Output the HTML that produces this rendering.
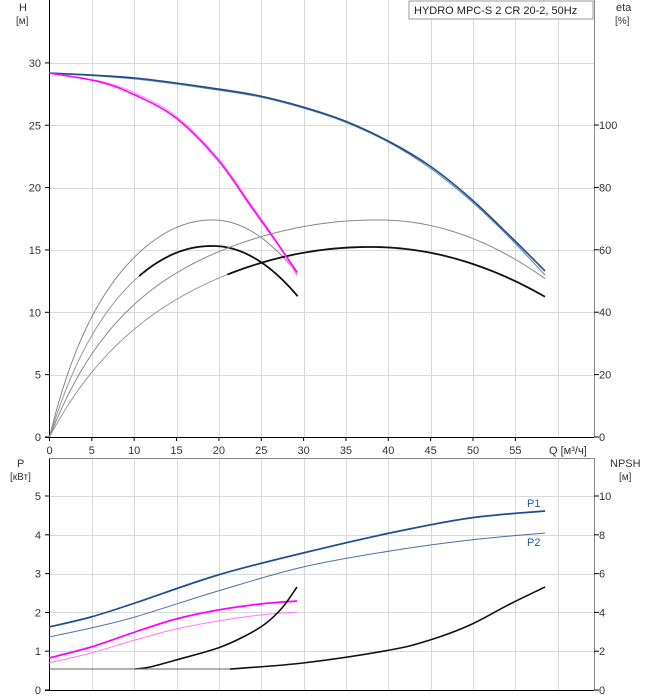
<!DOCTYPE html>
<html><head><meta charset="utf-8"><style>
body{margin:0;background:#fff;}
svg{display:block;font-family:"Liberation Sans",sans-serif;}
</style></head><body>
<svg id="s" width="658" height="700" viewBox="0 0 658 700" xmlns="http://www.w3.org/2000/svg">
<g id="grid" stroke="#d9d9d9" stroke-width="1"></g>
<g id="frame"></g>
<g id="curves" fill="none"></g>
<g id="txt" font-size="11" fill="#333"></g>
<rect x="409" y="1" width="184" height="18" fill="#fff" stroke="#999" stroke-width="1"/>
<text x="414" y="14" font-size="11" fill="#222">HYDRO MPC-S 2 CR 20-2, 50Hz</text>
</svg>
<script>
const NS="http://www.w3.org/2000/svg";
function el(p,t,a,txt){const e=document.createElementNS(NS,t);for(const k in a)e.setAttribute(k,a[k]);if(txt!==undefined)e.textContent=txt;document.getElementById(p).appendChild(e);return e;}
const X0=49.5,SX=8.47,R=594;
const qx=q=>X0+q*SX;
const Htop=437,SH=12.47;const Pb=690,SP=38.8;
for(let q=5;q<=60;q+=5){const x=Math.round(qx(q))+0.5;el('grid','line',{x1:x,y1:0,x2:x,y2:437});el('grid','line',{x1:x,y1:458,x2:x,y2:690});}
for(let h=5;h<=30;h+=5){const y=Math.round(Htop-h*SH)+0.5;el('grid','line',{x1:49,y1:y,x2:R,y2:y});}
for(let p=1;p<=5;p++){const y=Math.round(Pb-p*SP)+0.5;el('grid','line',{x1:49,y1:y,x2:R,y2:y});}
el('frame','line',{x1:49.5,y1:0,x2:49.5,y2:441,stroke:'#000'});
el('frame','line',{x1:45,y1:437.5,x2:R,y2:437.5,stroke:'#000'});
el('frame','line',{x1:R+0.5,y1:0,x2:R+0.5,y2:437,stroke:'#888'});
el('frame','line',{x1:49.5,y1:458,x2:49.5,y2:690,stroke:'#000'});
el('frame','line',{x1:45,y1:690.5,x2:R,y2:690.5,stroke:'#000'});
el('frame','line',{x1:49,y1:458.5,x2:R,y2:458.5,stroke:'#888'});
el('frame','line',{x1:R+0.5,y1:458,x2:R+0.5,y2:690,stroke:'#888'});
for(let q=0;q<=55;q+=5){const x=qx(q);el('frame','line',{x1:x,y1:437,x2:x,y2:441,stroke:'#000'});el('txt','text',{x:x,y:454,'text-anchor':'middle'},q);}
el('txt','text',{x:549,y:454},'Q [м³/ч]');
for(let h=0;h<=30;h+=5){const y=Htop-h*SH;el('frame','line',{x1:45,y1:y,x2:49,y2:y,stroke:'#000'});el('txt','text',{x:41,y:y+4,'text-anchor':'end'},h);}
for(let e=0;e<=100;e+=20){const y=Htop-e*3.12;el('frame','line',{x1:R,y1:y,x2:R+5,y2:y,stroke:'#000'});el('txt','text',{x:599,y:y+4},e);}
for(let p=0;p<=5;p++){const y=Pb-p*SP;el('frame','line',{x1:45,y1:y,x2:49,y2:y,stroke:'#000'});el('txt','text',{x:41,y:y+4,'text-anchor':'end'},p);}
for(let n=0;n<=10;n+=2){const y=Pb-n*SP/2;el('frame','line',{x1:R,y1:y,x2:R+5,y2:y,stroke:'#000'});el('txt','text',{x:599,y:y+4},n);}
el('txt','text',{x:19,y:11},'H');el('txt','text',{x:16,y:24,'font-size':10},'[м]');
el('txt','text',{x:616,y:11},'eta');el('txt','text',{x:615,y:24,'font-size':10},'[%]');
el('txt','text',{x:17,y:467},'P');el('txt','text',{x:10,y:480,'font-size':10},'[кВт]');
el('txt','text',{x:610,y:467},'NPSH');el('txt','text',{x:619,y:480,'font-size':10},'[м]');
el('txt','text',{x:527,y:507,fill:'#1f5a9c'},'P1');
el('txt','text',{x:527,y:546,fill:'#1f5a9c'},'P2');
function path(pts){let d='M'+pts[0][0]+','+pts[0][1];for(let i=0;i<pts.length-1;i++){const p0=pts[i-1]||pts[i],p1=pts[i],p2=pts[i+1],p3=pts[i+2]||p2;
d+=' C'+(p1[0]+(p2[0]-p0[0])/6)+','+(p1[1]+(p2[1]-p0[1])/6)+' '+(p2[0]-(p3[0]-p1[0])/6)+','+(p2[1]-(p3[1]-p1[1])/6)+' '+p2[0]+','+p2[1];}return d;}
function line(pts,c,w){el('curves','path',{d:path(pts),stroke:c,'stroke-width':w});}
function polyl(pts,c,w){el('curves','path',{d:'M'+pts.map(p=>p[0].toFixed(2)+','+p[1].toFixed(2)).join(' L'),stroke:c,'stroke-width':w,'stroke-linejoin':'round'});}
function eta(Qp,peak,k0,k1,c,Qs,Qe,col,w){const pts=[];const n=80;for(let i=0;i<=n;i++){const q=Qs+(Qe-Qs)*i/n;const r=q/Qp;let f;
if(r<=1){const k=k0+k1*(1-r)*(1-r);f=1-Math.pow(1-r,k);}else f=1-c*(r-1)*(r-1);pts.push([qx(q),Htop-peak*f]);}polyl(pts,col,w);}
// eta curves
eta(19.3,217,2.2,0.9,0.93,0,29.3,'#888',1);
eta(19.3,191,2.2,0.6,0.98,0,10.6,'#999',1);
eta(19.3,191,2.2,0.6,0.98,10.6,29.3,'#111',1.8);
eta(39,217,2.3,1.6,1.08,0,58.5,'#888',1);
eta(38,190,2.2,1.0,0.9,0,21,'#999',1);
eta(38,190,2.2,1.0,0.9,21,58.5,'#111',1.8);
// H curves
line([[49,73],[135,79],[218,90],[260,97],[303,108],[345,122],[390,143],[430,168],[470,200],[510,238],[545,275]],'#5a7bb0',1);
line([[49,73],[135,78],[218,89],[260,96],[303,107],[345,121],[390,142],[430,166],[470,198],[510,236],[545,271]],'#1f4e8c',1.6);
line([[49,73],[100,81],[135,93],[176,116],[218,158],[250,203],[275,239],[297,276]],'#ff88ff',1);
line([[49,73],[100,82],[135,95],[176,118],[218,160],[250,205],[275,240],[297,272]],'#ff00ff',1.6);
// P curves
line([[49,637],[91,628],[135,617],[218,591],[303,567],[390,551],[470,540],[545,533]],'#4a6fa8',1);
line([[49,627],[91,617],[135,603],[218,575],[303,553],[390,533],[470,518],[545,511]],'#1f4e8c',1.7);
line([[49,663],[91,653],[135,640],[176,629],[218,621],[260,615],[297,612]],'#ff77ff',1);
line([[49,658],[91,647],[135,632],[176,619],[218,610],[260,604],[297,601]],'#ff00ff',1.7);
// NPSH
line([[49,669],[135,669]],'#666',1);
line([[135,669],[150,667],[176,660],[218,648],[245,636],[265,624],[282,608],[297,587]],'#111',1.6);
line([[49,669],[230,669]],'#666',1);
line([[230,669],[303,663],[390,650],[430,640],[470,625],[510,604],[545,587]],'#111',1.6);
</script>
</body></html>
